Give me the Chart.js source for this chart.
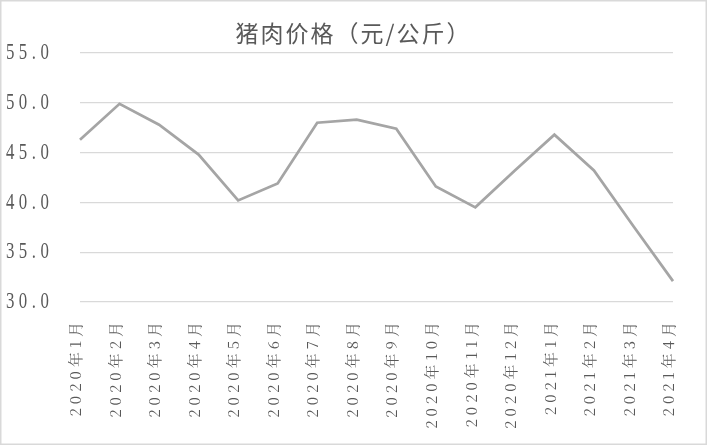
<!DOCTYPE html>
<html>
<head>
<meta charset="utf-8">
<script src="https://cdn.jsdelivr.net/npm/chart.js@4"></script>
<style>
html,body{margin:0;padding:0;background:#fff;}
#wrap{width:707px;height:445px;position:relative;}
</style>
</head>
<body>
<div id="wrap"><canvas id="c" width="707" height="445"></canvas></div>
<script>
const titleText = '猪肉价格（元/公斤）';
const categories = ['2020年1月','2020年2月','2020年3月','2020年4月','2020年5月','2020年6月','2020年7月','2020年8月','2020年9月','2020年10月','2020年11月','2020年12月','2021年1月','2021年2月','2021年3月','2021年4月'];
const porkPrice = [46.3, 49.9, 47.8, 44.8, 40.2, 41.9, 48.0, 48.3, 47.4, 41.6, 39.5, 43.2, 46.8, 43.2, 37.6, 32.1];
const yTicks = [30, 35, 40, 45, 50, 55];

// draw a scale's labels with letter spacing and horizontal condensing along the text direction
function styledLabels(spacing, sx) {
  return function(scale) {
    if (scale._styledWrapped) return;
    const orig = scale.drawLabels;
    scale.drawLabels = function(ca) {
      const c = this.ctx;
      const prevLS = c.letterSpacing;
      const origFill = c.fillText;
      c.letterSpacing = spacing;
      c.fillText = function(t, x, y, mw) {
        c.save();
        c.translate(x, y);
        c.scale(sx, 1);
        origFill.call(c, t, 0, 0);
        c.restore();
      };
      try { orig.call(this, ca); } finally {
        delete c.fillText;
        c.letterSpacing = prevLS;
      }
    };
    scale._styledWrapped = true;
  };
}

const frame = {
  id: 'frame',
  beforeDraw(chart) {
    const c = chart.ctx;
    c.save();
    c.fillStyle = '#ffffff';
    c.fillRect(0, 0, chart.width, chart.height);
    c.restore();
    c.letterSpacing = '2px';
  },
  afterDraw(chart) {
    const c = chart.ctx;
    c.letterSpacing = '0px';
    c.save();
    c.strokeStyle = '#d9d9d9';
    c.lineWidth = 1.5;
    c.strokeRect(0.75, 0.75, chart.width - 1.5, chart.height - 1.5);
    c.restore();
  }
};

new Chart(document.getElementById('c'), {
  type: 'line',
  data: {
    labels: categories,
    datasets: [{
      label: titleText,
      data: porkPrice,
      borderColor: '#a5a5a5',
      borderWidth: 2.75,
      pointRadius: 0,
      tension: 0,
      fill: false,
      yAxisID: 'y'
    }]
  },
  options: {
    responsive: false,
    animation: false,
    devicePixelRatio: 1,
    layout: { padding: 0 },
    plugins: {
      legend: { display: false },
      tooltip: { enabled: false },
      title: {
        display: true,
        text: titleText,
        color: '#595959',
        font: { family: '"Noto Sans CJK SC"', size: 23, weight: 'normal', lineHeight: 1.2 },
        padding: { top: 19, bottom: 6.4 }
      }
    },
    scales: {
      x: {
        offset: false,
        grid: { display: false, drawTicks: false },
        border: { display: false },
        ticks: {
          autoSkip: false,
          maxRotation: 90,
          minRotation: 90,
          padding: 16,
          labelOffset: -4.5,
          color: '#595959',
          font: { family: '"Noto Serif CJK SC", "Liberation Serif"', size: 15 }
        },
        afterFit(s) { s.height = 143; },
        afterUpdate: styledLabels('4px', 1)
      },
      y: {
        position: 'left',
        min: 30,
        max: 55,
        afterBuildTicks(s) { s.ticks = yTicks.map(v => ({ value: v })); },
        grid: { color: '#d9d9d9', lineWidth: 1.3, drawTicks: false },
        border: { display: false },
        ticks: {
          padding: 26.5,
          color: '#595959',
          font: { family: '"Liberation Serif"', size: 24 },
          callback: v => Number(v).toFixed(1)
        },
        afterFit(s) { s.width = 80; },
        afterUpdate: styledLabels('6.5px', 0.7)
      },
      yRight: {
        position: 'right',
        min: 30,
        max: 55,
        grid: { display: false, drawTicks: false },
        border: { display: false },
        ticks: { display: false },
        afterFit(s) { s.width = 25; }
      }
    }
  },
  plugins: [frame]
});
</script>
</body>
</html>
